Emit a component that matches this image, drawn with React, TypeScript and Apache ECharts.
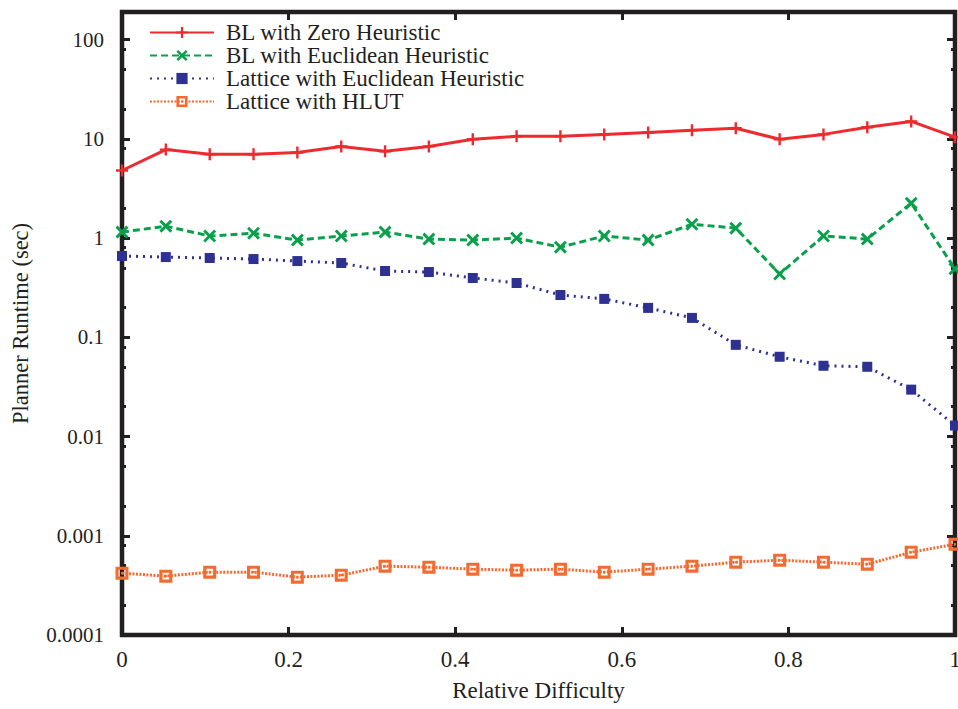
import React, { useEffect, useRef } from "react";
import * as echarts from "echarts";

const difficulty = [0, 0.0526, 0.1053, 0.1579, 0.2105, 0.2632, 0.3158, 0.3684, 0.4211, 0.4737, 0.5263, 0.5789, 0.6316, 0.6842, 0.7368, 0.7895, 0.8421, 0.8947, 0.9474, 1];
const blZero = [4.8, 7.8, 7.0, 7.0, 7.3, 8.4, 7.5, 8.4, 9.9, 10.6, 10.6, 11.1, 11.6, 12.2, 12.8, 9.9, 11.1, 13.1, 15.0, 10.4];
const blEuclid = [1.15, 1.32, 1.05, 1.12, 0.955, 1.05, 1.15, 0.977, 0.955, 1.0, 0.81, 1.05, 0.955, 1.38, 1.26, 0.435, 1.05, 0.977, 2.25, 0.49];
const latticeEuclid = [0.66, 0.644, 0.63, 0.615, 0.587, 0.561, 0.466, 0.455, 0.396, 0.353, 0.267, 0.244, 0.198, 0.157, 0.084, 0.0637, 0.0517, 0.0505, 0.0297, 0.0129];
const latticeHlut = [0.00042, 0.000392, 0.00043, 0.00043, 0.000383, 0.000401, 0.000494, 0.000482, 0.000461, 0.00045, 0.000461, 0.00043, 0.000461, 0.000494, 0.000542, 0.000567, 0.000542, 0.000517, 0.000683, 0.000822];

const seriesNames = ["BL with Zero Heuristic", "BL with Euclidean Heuristic", "Lattice with Euclidean Heuristic", "Lattice with HLUT"];
const yTickValues = [0.0001, 0.001, 0.01, 0.1, 1, 10, 100];
const yTickLabels = ["0.0001", "0.001", "0.01", "0.1", "1", "10", "100"];
const yMinorTicks = [0.0002, 0.0005, 0.0008, 0.002, 0.005, 0.008, 0.02, 0.05, 0.08, 0.2, 0.5, 0.8, 2, 5, 8, 20, 50, 80];
const xTitle = "Relative Difficulty";
const yTitle = "Planner Runtime (sec)";

const FONT = "Liberation Serif";
const INK = "#231f20";

const PLUS = "path://M4,0H6V4H10V6H6V10H4V6H0V4H4Z";
const CROSS = "path://M0,1.6L1.6,0L5,3.4L8.4,0L10,1.6L6.6,5L10,8.4L8.4,10L5,6.6L1.6,10L0,8.4L3.4,5Z";
const BOXDOT = "path://M0,0H10V10H0Z M2.4,2.4V7.6H7.6V2.4Z M4.2,4.2H5.8V5.8H4.2Z";

function pairs(vals: number[]) {
  return vals.map((v, i) => [difficulty[i], v]);
}

export default function App() {
  const ref = useRef<HTMLDivElement>(null);
  useEffect(() => {
    if (!ref.current) return;
    const chart = echarts.init(ref.current, undefined, { renderer: "svg" });
    const logAxisBase = {
      type: "log" as const,
      min: 0.0001,
      max: 190,
      splitLine: { show: false },
      axisLine: { show: false },
    };
    chart.setOption({
      animation: false,
      backgroundColor: "#ffffff",
      grid: {
        left: 122,
        right: 3,
        top: 12,
        bottom: 74,
        outerBoundsMode: "none",
        containLabel: false,
        show: true,
        borderColor: INK,
        borderWidth: 4.5,
        backgroundColor: "transparent",
      },
      legend: {
        orient: "vertical",
        left: 149,
        top: 21,
        padding: 0,
        itemWidth: 64,
        itemHeight: 14,
        itemGap: 0,
        data: seriesNames,
        textStyle: {
          fontFamily: FONT,
          fontSize: 23,
          color: INK,
          lineHeight: 22,
          padding: [0, 0, 0, 7],
        },
      },
      xAxis: [
        {
          type: "value",
          min: 0,
          max: 1,
          interval: 0.2,
          position: "bottom",
          name: xTitle,
          nameLocation: "middle",
          nameGap: 44,
          nameTextStyle: { fontFamily: FONT, fontSize: 23, color: INK },
          axisLine: { show: false },
          splitLine: { show: false },
          axisTick: { inside: true, length: 8, lineStyle: { color: INK, width: 3 } },
          axisLabel: { fontFamily: FONT, fontSize: 23, color: INK, margin: 13 },
        },
        {
          type: "value",
          min: 0,
          max: 1,
          interval: 0.2,
          position: "top",
          axisLine: { show: false },
          splitLine: { show: false },
          axisTick: { inside: true, length: 8, lineStyle: { color: INK, width: 3 } },
          axisLabel: { show: false },
        },
      ],
      yAxis: [
        {
          ...logAxisBase,
          position: "left",
          name: yTitle,
          nameLocation: "middle",
          nameGap: 90,
          nameTextStyle: { fontFamily: FONT, fontSize: 22.5, color: INK },
          axisTick: { inside: true, length: 8, customValues: yTickValues, lineStyle: { color: INK, width: 3 } },
          axisLabel: {
            customValues: yTickValues,
            fontFamily: FONT,
            fontSize: 21,
            color: INK,
            margin: 18,
            formatter: (v: number) => yTickLabels[Math.round(Math.log10(v)) + 4],
          },
        },
        {
          ...logAxisBase,
          position: "left",
          axisTick: { inside: true, length: 4, customValues: yMinorTicks, lineStyle: { color: INK, width: 3 } },
          axisLabel: { show: false },
        },
        {
          ...logAxisBase,
          position: "right",
          axisTick: { inside: true, length: 8, customValues: yTickValues, lineStyle: { color: INK, width: 3 } },
          axisLabel: { show: false },
        },
        {
          ...logAxisBase,
          position: "right",
          axisTick: { inside: true, length: 4, customValues: yMinorTicks, lineStyle: { color: INK, width: 3 } },
          axisLabel: { show: false },
        },
      ],
      series: [
        {
          name: seriesNames[0],
          type: "line",
          data: pairs(blZero),
          symbol: PLUS,
          symbolSize: 12,
          itemStyle: { color: "#ee2a2e" },
          lineStyle: { color: "#ee2a2e", width: 3, type: "solid" },
        },
        {
          name: seriesNames[1],
          type: "line",
          data: pairs(blEuclid),
          symbol: CROSS,
          symbolSize: 13,
          itemStyle: { color: "#0aa04b" },
          lineStyle: { color: "#0aa04b", width: 3, type: [7, 4] },
        },
        {
          name: seriesNames[2],
          type: "line",
          data: pairs(latticeEuclid),
          symbol: "rect",
          symbolSize: 10,
          itemStyle: { color: "#2e3192" },
          lineStyle: { color: "#2e3192", width: 3, type: [2, 5] },
        },
        {
          name: seriesNames[3],
          type: "line",
          data: pairs(latticeHlut),
          symbol: BOXDOT,
          symbolSize: 13,
          itemStyle: { color: "#f26b30" },
          lineStyle: { color: "#f26b30", width: 3, type: [2, 1.5] },
        },
      ],
    });
    return () => chart.dispose();
  }, []);
  return <div ref={ref} style={{ width: 958, height: 709, position: "absolute", left: 0, top: 0 }} />;
}
